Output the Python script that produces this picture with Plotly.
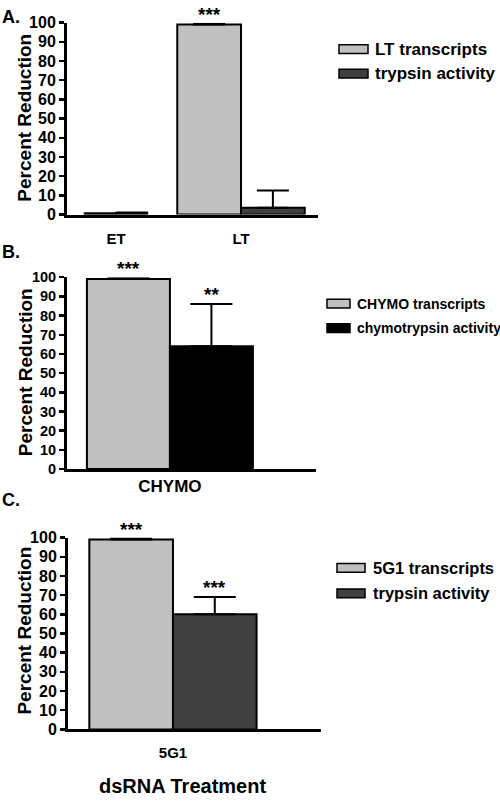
import plotly.graph_objects as go

# ---------------- data ----------------
y_ticks = [0, 10, 20, 30, 40, 50, 60, 70, 80, 90, 100]

a_groups = ["ET", "LT"]
a_series = ["LT transcripts", "trypsin activity"]
a_transcripts = [0.5, 99.0]
a_transcripts_err = [0.0, 0.5]
a_activity = [0.8, 3.5]
a_activity_err = [0.3, 9.0]
a_stars_transcripts = ["", "***"]
a_stars_activity = ["", ""]

b_groups = ["CHYMO"]
b_series = ["CHYMO transcripts", "chymotrypsin activity"]
b_transcripts = [99.0]
b_transcripts_err = [0.5]
b_activity = [64.0]
b_activity_err = [22.0]
b_stars_transcripts = ["***"]
b_stars_activity = ["**"]

c_groups = ["5G1"]
c_series = ["5G1 transcripts", "trypsin activity"]
c_transcripts = [99.0]
c_transcripts_err = [0.5]
c_activity = [60.0]
c_activity_err = [9.0]
c_stars_transcripts = ["***"]
c_stars_activity = ["***"]

panel_labels = ["A.", "B.", "C."]
y_title = "Percent Reduction"
x_title = "dsRNA Treatment"

# ---------------- style ----------------
W, H = 500, 805
LIGHT = "#c0c0c0"
DARK = "#404040"
BLACK = "#000000"
FONT = "Liberation Sans, Arial, sans-serif"


def px_x(p):
    return p / W


def px_y(p):
    return 1 - p / H


fig = go.Figure()

panels = [
    dict(groups=a_groups, series=a_series, t=a_transcripts, te=a_transcripts_err,
         a=a_activity, ae=a_activity_err, st=a_stars_transcripts, sa=a_stars_activity,
         colors=[LIGHT, DARK], widths=[0.25, 0.51], cap=16,
         xdom=(67, 318), xrange=[-0.392, 1.616], ytop=15, ybot=211,
         tickfont=dict(family=FONT, size=16, color=BLACK),
         xtickfont=dict(family=FONT, size=15, color=BLACK), xstand=8,
         legfont=dict(family=FONT, size=17, color=BLACK),
         leg_x=(339, 368, 373), leg_y=(42, 67), label_y=9, title_y=112),
    dict(groups=b_groups, series=b_series, t=b_transcripts, te=b_transcripts_err,
         a=b_activity, ae=b_activity_err, st=b_stars_transcripts, sa=b_stars_activity,
         colors=[LIGHT, BLACK], widths=[0.4], cap=21,
         xdom=(67, 316), xrange=[-0.496, 0.704], ytop=275, ybot=471,
         tickfont=dict(family=FONT, size=14.5, color=BLACK),
         xtickfont=dict(family=FONT, size=17, color=BLACK), xstand=0,
         legfont=dict(family=FONT, size=14, color=BLACK),
         leg_x=(327, 350, 355), leg_y=(302, 327), label_y=249, title_y=372),
    dict(groups=c_groups, series=c_series, t=c_transcripts, te=c_transcripts_err,
         a=c_activity, ae=c_activity_err, st=c_stars_transcripts, sa=c_stars_activity,
         colors=[LIGHT, DARK], widths=[0.4], cap=21,
         xdom=(68, 321), xrange=[-0.502, 0.708], ytop=541, ybot=737,
         tickfont=dict(family=FONT, size=16, color=BLACK),
         xtickfont=dict(family=FONT, size=15, color=BLACK), xstand=8,
         legfont=dict(family=FONT, size=16.5, color=BLACK),
         leg_x=(337, 365, 371), leg_y=(572, 598), label_y=503, title_y=636),
]

annotations = []
shapes = []
layout_axes = {}

for i, p in enumerate(panels):
    n = i + 1
    xa = "x" if n == 1 else f"x{n}"
    ya = "y" if n == 1 else f"y{n}"
    pos = list(range(len(p["groups"])))
    widths = p["widths"] if len(p["widths"]) == len(pos) else p["widths"] * len(pos)
    x_t = [c - w / 2 for c, w in zip(pos, widths)]
    x_a = [c + w / 2 for c, w in zip(pos, widths)]

    for xs, vals, errs, color, name, stars in [
        (x_t, p["t"], p["te"], p["colors"][0], p["series"][0], p["st"]),
        (x_a, p["a"], p["ae"], p["colors"][1], p["series"][1], p["sa"]),
    ]:
        fig.add_trace(go.Bar(
            x=xs, y=vals, width=widths, name=name, showlegend=False,
            marker=dict(color=color, line=dict(color=BLACK, width=2)),
            error_y=dict(type="data", array=errs, arrayminus=[0] * len(errs),
                         symmetric=False, color=BLACK, thickness=2, width=p["cap"]),
            xaxis=xa, yaxis=ya, hoverinfo="skip",
        ))
        for xv, v, e, s in zip(xs, vals, errs, stars):
            if s:
                annotations.append(dict(
                    x=xv, y=v + e, xref=xa, yref=ya, text=s, showarrow=False,
                    yanchor="bottom", xanchor="center", yshift=-3,
                    font=dict(family=FONT, size=19, color=BLACK)))

    layout_axes["xaxis" if n == 1 else f"xaxis{n}"] = dict(
        domain=[px_x(p["xdom"][0]), px_x(p["xdom"][1])], range=p["xrange"],
        anchor=ya, tickvals=pos, ticktext=p["groups"], ticks="",
        showline=True, linecolor=BLACK, linewidth=3, showgrid=False, zeroline=False,
        tickfont=p["xtickfont"], ticklabelstandoff=p["xstand"], fixedrange=True,
    )
    layout_axes["yaxis" if n == 1 else f"yaxis{n}"] = dict(
        domain=[px_y(p["ybot"]), px_y(p["ytop"])], range=[0, 100],
        anchor=xa, tickvals=y_ticks, ticks="outside", ticklen=5, tickwidth=2.5,
        tickcolor=BLACK, showline=True, linecolor=BLACK, linewidth=3,
        showgrid=False, zeroline=False, tickfont=p["tickfont"], fixedrange=True,
    )

    # y title
    annotations.append(dict(
        x=px_x(25), y=px_y(p["title_y"]), xref="paper", yref="paper",
        text=y_title, textangle=-90, showarrow=False,
        xanchor="center", yanchor="middle",
        font=dict(family=FONT, size=19, color=BLACK)))
    # panel label
    annotations.append(dict(
        x=px_x(0), y=px_y(p["label_y"]), xref="paper", yref="paper",
        text=f"<b>{panel_labels[i]}</b>", showarrow=False,
        xanchor="left", yanchor="middle",
        font=dict(family=FONT, size=18, color=BLACK)))

    # custom legend
    x0, x1, xt = p["leg_x"]
    for name, color, yc in zip(p["series"], p["colors"], p["leg_y"]):
        shapes.append(dict(
            type="rect", xref="paper", yref="paper",
            x0=px_x(x0), x1=px_x(x1), y0=px_y(yc + 4.5), y1=px_y(yc - 4.5),
            fillcolor=color, line=dict(color=BLACK, width=1.5)))
        annotations.append(dict(
            x=px_x(xt), y=px_y(yc), xref="paper", yref="paper",
            text=f"<b>{name}</b>", showarrow=False,
            xanchor="left", yanchor="middle", font=p["legfont"]))

annotations.append(dict(
    x=px_x(182), y=px_y(795), xref="paper", yref="paper",
    text=f"<b>{x_title}</b>", showarrow=False, xanchor="center", yanchor="middle",
    font=dict(family=FONT, size=20, color=BLACK)))

fig.update_layout(
    width=W, height=H, margin=dict(l=0, r=0, t=0, b=0),
    paper_bgcolor="white", plot_bgcolor="white",
    barmode="overlay", showlegend=False,
    font=dict(family=FONT, color=BLACK, weight="bold"),
    annotations=annotations, shapes=shapes,
    **layout_axes,
)

fig.write_html(
    "out.html",
    config={"displayModeBar": False, "staticPlot": True},
    post_script="document.body.style.margin='0px';document.body.style.overflow='hidden';",
)
